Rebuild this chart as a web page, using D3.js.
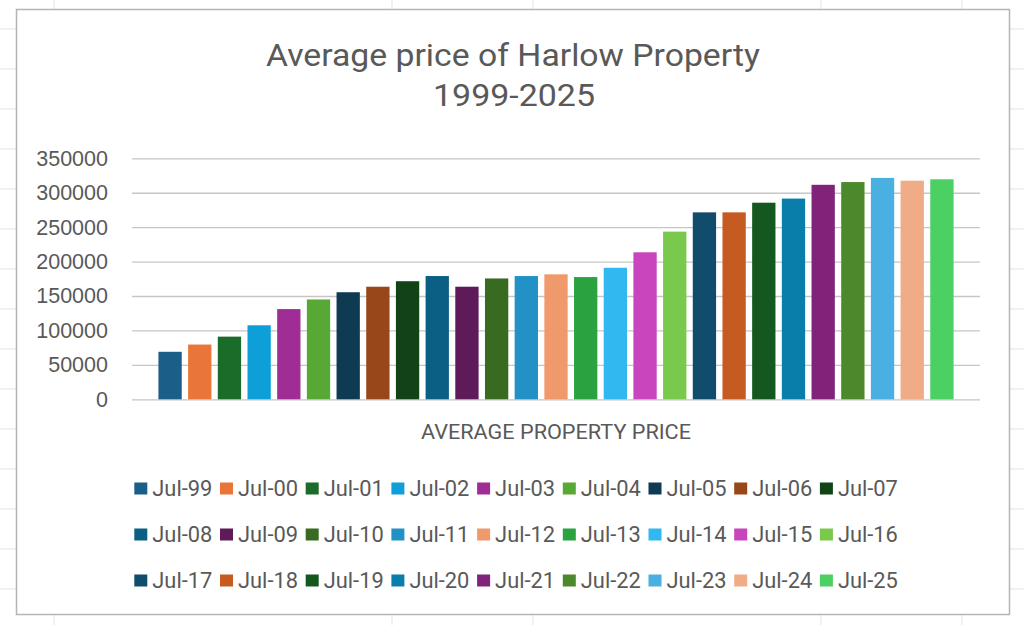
<!DOCTYPE html>
<html>
<head>
<meta charset="utf-8">
<script src="https://cdn.jsdelivr.net/npm/d3@7/dist/d3.min.js"></script>
<style>
  html, body { margin: 0; padding: 0; background: #fff; }
  svg { display: block; }
</style>
</head>
<body>
<svg id="chart" width="1024" height="625"></svg>
<script>
// ---- data ----
const categories = ["Jul-99","Jul-00","Jul-01","Jul-02","Jul-03","Jul-04","Jul-05","Jul-06","Jul-07",
                    "Jul-08","Jul-09","Jul-10","Jul-11","Jul-12","Jul-13","Jul-14","Jul-15","Jul-16",
                    "Jul-17","Jul-18","Jul-19","Jul-20","Jul-21","Jul-22","Jul-23","Jul-24","Jul-25"];
const prices = [69000, 79500, 91000, 107500, 131000, 145000, 155500, 163500, 171500,
                179000, 163500, 175500, 179000, 181500, 177500, 191000, 213500, 243500,
                271500, 271500, 285500, 291500, 311500, 315500, 321500, 317500, 319500];
const colors = ["#1b5f88","#e97638","#1c6c29","#0f9fd8","#a02d95","#58a836","#0e3a52","#974719","#114317",
                "#0b5e84","#5f1b59","#386a22","#2191c6","#f09a6b","#2aa240","#31b8f0","#c845bd","#78c94c",
                "#114c6c","#c55b20","#14581f","#0a7eab","#812479","#4b892c","#49b0e1","#f0ac86","#4ccf63"];
const yTicks = [0, 50000, 100000, 150000, 200000, 250000, 300000, 350000];
const titleLines = ["Average price of Harlow Property", "1999-2025"];
const xAxisTitle = "AVERAGE PROPERTY PRICE";

// ---- drawing ----
const svg = d3.select("#chart");
const txt = "#595959";

// background sheet gridlines
const bg = svg.append("g").attr("stroke", "#e3e3e3").attr("stroke-width", 1);
d3.range(29, 625, 40).forEach(y => {
  bg.append("line").attr("x1", 0).attr("x2", 16).attr("y1", y).attr("y2", y);
  bg.append("line").attr("x1", 1010).attr("x2", 1024).attr("y1", y).attr("y2", y);
});
[54, 392, 533, 821, 962].forEach(x => {
  bg.append("line").attr("x1", x).attr("x2", x).attr("y1", 0).attr("y2", 9);
  bg.append("line").attr("x1", x).attr("x2", x).attr("y1", 615).attr("y2", 625);
});

// chart area
svg.append("rect").attr("x", 16.5).attr("y", 9.5).attr("width", 993).attr("height", 605)
  .attr("fill", "#fff").attr("stroke", "#b4b4b4").attr("stroke-width", 1.5);

const x = d3.scaleBand().domain(categories).range([132, 980]).paddingInner(0.215).paddingOuter(0.89);
const y = d3.scaleLinear().domain([0, 350000]).range([399.3, 158.3]);

// gridlines
const yAxis = d3.axisLeft(y).tickValues(yTicks).tickSize(-(980 - 132)).tickFormat(d => d).tickPadding(24);
const gy = svg.append("g").attr("transform", "translate(132,0)").call(yAxis);
gy.select(".domain").remove();
gy.selectAll(".tick line").attr("stroke", "#c6c6c6").attr("stroke-width", 1.3);
gy.selectAll(".tick text").attr("fill", txt).attr("font-family", "'Liberation Sans', Arial, sans-serif")
  .attr("font-size", "21.5px");

// bars
svg.append("g").selectAll("rect").data(categories).join("rect")
  .attr("x", d => x(d))
  .attr("width", x.bandwidth())
  .attr("y", (d, i) => y(prices[i]))
  .attr("height", (d, i) => y(0) - y(prices[i]))
  .attr("fill", (d, i) => colors[i]);

// title
svg.append("text").attr("x", 513).attr("y", 66).attr("text-anchor", "middle")
  .attr("font-family", "Roboto, sans-serif").attr("font-size", "32px").attr("fill", txt)
  .attr("textLength", 494).attr("lengthAdjust", "spacingAndGlyphs")
  .text(titleLines[0]);
svg.append("text").attr("x", 514).attr("y", 106).attr("text-anchor", "middle")
  .attr("font-family", "Roboto, sans-serif").attr("font-size", "32px").attr("fill", txt)
  .attr("textLength", 162).attr("lengthAdjust", "spacingAndGlyphs")
  .text(titleLines[1]);

// x axis title
svg.append("text").attr("x", 556).attr("y", 438.5).attr("text-anchor", "middle")
  .attr("font-family", "Roboto, sans-serif").attr("font-size", "21px").attr("fill", txt)
  .attr("textLength", 270).attr("lengthAdjust", "spacingAndGlyphs")
  .text(xAxisTitle);

// legend
const perRow = 9;
const lx = d3.scaleLinear().domain([0, perRow]).range([134.3, 134.3 + 85.7 * perRow]);
const ly = d3.scaleLinear().domain([0, 1]).range([488.5, 534.5]);
const leg = svg.append("g").selectAll("g").data(categories).join("g")
  .attr("transform", (d, i) => `translate(${lx(i % perRow)},${ly(Math.floor(i / perRow))})`);
leg.append("rect").attr("x", 0).attr("y", -6).attr("width", 13).attr("height", 12)
  .attr("fill", (d, i) => colors[i]);
leg.append("text").attr("x", 18).attr("y", 7.5)
  .attr("font-family", "Roboto, sans-serif").attr("font-size", "22px").attr("fill", txt)
  .attr("textLength", 60).attr("lengthAdjust", "spacingAndGlyphs")
  .text(d => d);
</script>
</body>
</html>
